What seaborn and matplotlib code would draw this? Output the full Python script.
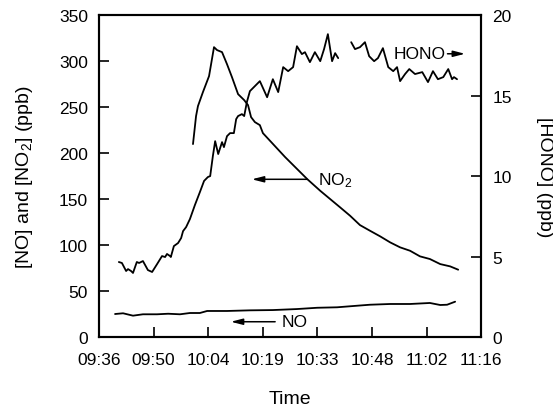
import numpy as np
import pandas as pd
import matplotlib
matplotlib.use("Agg")
import matplotlib.pyplot as plt
import seaborn as sns

# time axis in minutes after 09:36
time_labels = ["09:36", "09:50", "10:04", "10:19", "10:33", "10:48", "11:02", "11:16"]

# NO2 (ppb, left axis)
no2_time = [24.6, 25.4, 25.9, 27.2, 28.8, 30.1, 30.9, 32.2, 33.5, 34.8, 36.4, 38.0, 39.0,
            39.8, 40.8, 42.1, 42.9, 48.7, 54.5, 57.9, 60.5, 63.1, 65.7, 68.3, 70.9, 73.6,
            76.2, 78.8, 81.4, 84.0, 86.6, 89.3, 91.9, 94.0]
no2_ppb = [209.8, 240.2, 251.1, 266.3, 283.7, 315.2, 312.0, 309.8, 296.7, 282.6, 264.1, 257.6,
           252.2, 239.1, 233.7, 230.4, 221.7, 195.7, 171.7, 159.0, 150.0, 141.0, 131.9, 121.7,
           115.6, 109.4, 102.9, 97.5, 93.8, 87.7, 84.8, 79.3, 76.8, 73.2]

# NO (ppb, left axis)
no_time = [4.2, 6.3, 8.9, 11.5, 15.2, 18.1, 21.2, 23.8, 26.4, 28.3, 33.5, 39.5, 45.5, 51.8,
           57.1, 62.3, 67.5, 70.9, 76.2, 81.4, 86.6, 89.3, 91.1, 93.2]
no_ppb = [25.0, 25.8, 23.2, 24.7, 24.7, 25.3, 24.7, 26.1, 26.1, 28.3, 28.3, 29.0, 29.3, 30.4,
          31.8, 32.3, 34.0, 35.1, 35.9, 35.9, 37.0, 34.8, 35.1, 38.4]

# HONO (ppb, right axis), two runs with a gap in between
hono_time_1 = [5.2, 6.0, 7.1, 7.6, 8.4, 8.9, 9.9, 10.5, 11.5, 12.8, 13.9, 15.2, 16.5, 17.3,
               17.8, 18.6, 18.8, 19.6, 20.7, 21.5, 22.0, 22.8, 23.8, 25.1, 26.4, 27.5, 28.5,
               29.1, 29.8, 30.4, 31.2, 32.2, 32.7, 33.5, 34.3, 35.3, 35.9, 36.4, 37.4, 38.0,
               38.7, 39.5, 40.8, 42.1, 44.0, 45.5, 46.9, 48.2, 49.5, 50.8, 51.8, 53.1, 53.9,
               55.2, 56.5, 57.9, 58.9, 59.9, 61.0, 61.8, 62.6]
hono_ppb_1 = [4.66, 4.60, 4.10, 4.22, 4.10, 3.98, 4.66, 4.60, 4.72, 4.16, 4.04, 4.53, 5.03,
              4.97, 5.16, 5.03, 4.97, 5.65, 5.84, 6.15, 6.58, 6.83, 7.33, 8.2, 9.0, 9.7, 9.94,
              10.0, 11.24, 12.17, 11.37, 12.11, 11.8, 12.48, 12.67, 12.67, 13.54, 13.73, 13.85,
              13.73, 14.6, 15.28, 15.59, 15.9, 14.9, 16.02, 15.22, 16.77, 16.52, 16.77, 18.07,
              17.58, 17.7, 17.08, 17.7, 17.14, 17.89, 18.82, 17.14, 17.64, 17.33]
hono_time_2 = [66.0, 67.0, 68.3, 69.6, 70.7, 72.0, 73.0, 74.3, 75.7, 77.0, 78.0, 78.8, 80.1,
               81.2, 82.7, 84.6, 86.1, 87.4, 88.7, 90.1, 91.4, 92.4, 92.9, 93.7]
hono_ppb_2 = [18.32, 17.89, 18.01, 18.32, 17.45, 17.14, 17.33, 17.95, 16.77, 16.52, 16.77,
              15.9, 16.34, 16.65, 16.34, 16.46, 15.84, 16.52, 16.02, 16.15, 16.65, 16.02,
              16.15, 16.02]

no2_df = pd.DataFrame({"t": no2_time, "v": no2_ppb})
no_df = pd.DataFrame({"t": no_time, "v": no_ppb})
hono_df = pd.concat([
    pd.DataFrame({"t": hono_time_1, "v": hono_ppb_1, "run": 1}),
    pd.DataFrame({"t": hono_time_2, "v": hono_ppb_2, "run": 2}),
])

sns.set_style("ticks")
plt.rcParams["font.family"] = ["Liberation Sans", "DejaVu Sans"]
plt.rcParams["mathtext.default"] = "regular"
plt.rcParams["text.color"] = "black"
plt.rcParams["axes.labelcolor"] = "black"

fig = plt.figure(figsize=(5.53, 4.10), dpi=100)
ax = fig.add_axes([0.179, 0.1756, 0.691, 0.785])
ax2 = ax.twinx()

lw = 1.3
sns.lineplot(data=no2_df, x="t", y="v", ax=ax, color="black", lw=lw, estimator=None)
sns.lineplot(data=no_df, x="t", y="v", ax=ax, color="black", lw=lw, estimator=None)
sns.lineplot(data=hono_df, x="t", y="v", units="run", ax=ax2, color="black", lw=lw,
             estimator=None)

ax.set_xlim(0, 100)
ax.set_ylim(0, 350)
ax2.set_ylim(0, 20)
ax.set_xticks(np.linspace(0, 100, len(time_labels)))
ax.set_xticklabels(time_labels)
ax.set_yticks(np.arange(0, 351, 50))
ax2.set_yticks(np.arange(0, 21, 5))

tick_kw = dict(direction="in", length=7.5, width=1.2, labelsize=12.5, color="black",
               labelcolor="black")
ax.tick_params(axis="x", pad=11, **tick_kw)
ax.tick_params(axis="y", pad=8, **tick_kw)
ax2.tick_params(axis="y", pad=8, **tick_kw)

for a in (ax, ax2):
    for s in a.spines.values():
        s.set_visible(True)
        s.set_linewidth(1.5)
        s.set_color("black")

ax.set_xlabel("Time", fontsize=14, labelpad=16)
ax.set_ylabel("[NO] and [NO$_2$] (ppb)", fontsize=14, labelpad=17)
ax2.set_ylabel("[HONO] (ppb)", fontsize=14, rotation=270, labelpad=30)

arrow = dict(arrowstyle="-|>,head_length=0.7,head_width=0.18", color="black", lw=1.1,
             shrinkA=0, shrinkB=0)
ax.annotate("", xy=(40.0, 171.5), xytext=(54.5, 171.5), arrowprops=arrow)
ax.text(57.3, 171.5, "NO$_2$", fontsize=12.5, va="center", ha="left")
ax.annotate("", xy=(34.5, 16.6), xytext=(46.1, 16.6), arrowprops=arrow)
ax.text(47.9, 16.6, "NO", fontsize=12.5, va="center", ha="left")
ax2.annotate("", xy=(95.8, 17.6), xytext=(91.2, 17.6), arrowprops=arrow)
ax2.text(90.6, 17.6, "HONO", fontsize=12.5, va="center", ha="right")

fig.savefig("out.png", dpi=100)
